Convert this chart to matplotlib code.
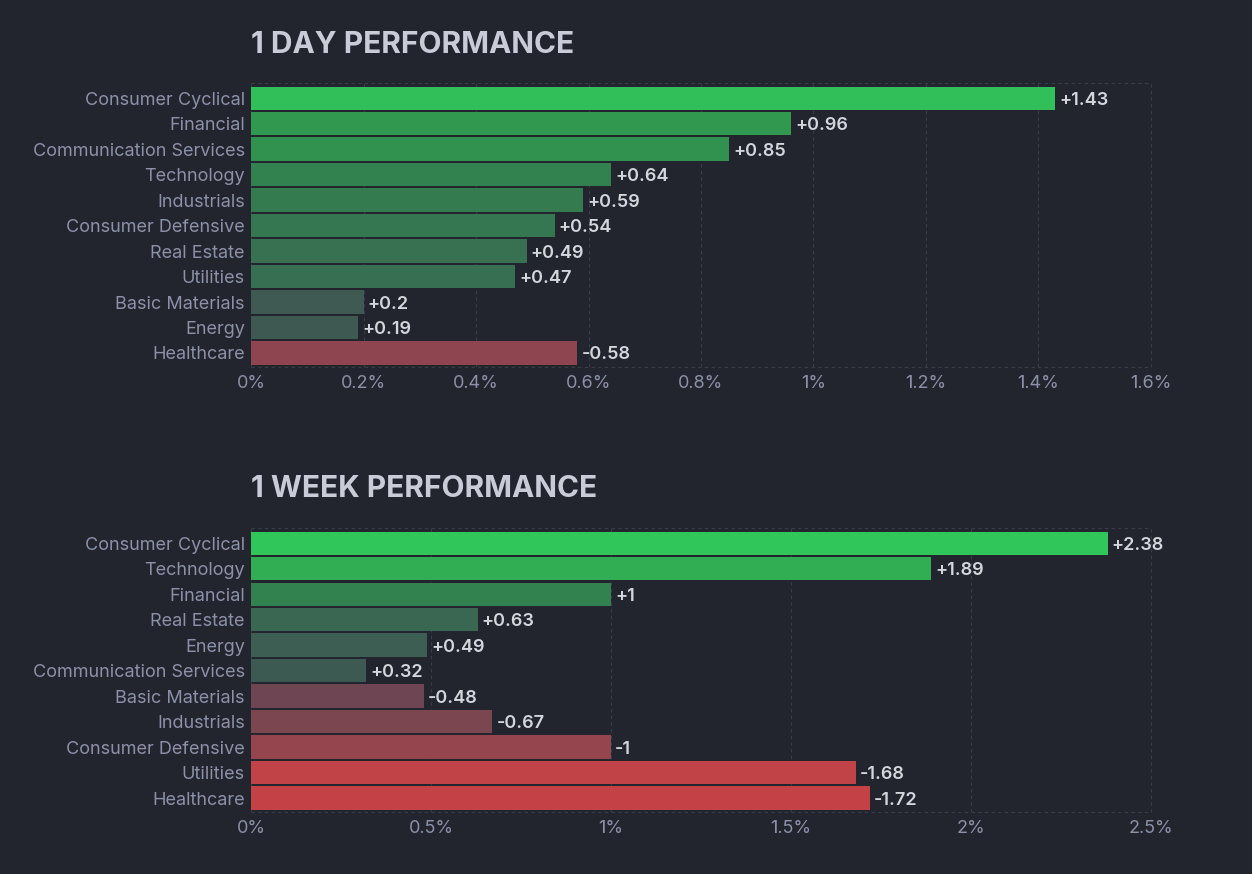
import matplotlib
matplotlib.use("Agg")
import matplotlib.pyplot as plt
import numpy as np
from matplotlib.colors import to_rgb

# ── Data ──────────────────────────────────────────────────────────────────────

DAY_SECTORS = ["Consumer Cyclical", "Financial", "Communication Services", "Technology",
               "Industrials", "Consumer Defensive", "Real Estate", "Utilities",
               "Basic Materials", "Energy", "Healthcare"]
DAY_VALUES = [1.43, 0.96, 0.85, 0.64, 0.59, 0.54, 0.49, 0.47, 0.2, 0.19, -0.58]
DAY_TICKS = [0, 0.2, 0.4, 0.6, 0.8, 1.0, 1.2, 1.4, 1.6]

WEEK_SECTORS = ["Consumer Cyclical", "Technology", "Financial", "Real Estate", "Energy",
                "Communication Services", "Basic Materials", "Industrials",
                "Consumer Defensive", "Utilities", "Healthcare"]
WEEK_VALUES = [2.38, 1.89, 1.0, 0.63, 0.49, 0.32, -0.48, -0.67, -1.0, -1.68, -1.72]
WEEK_TICKS = [0, 0.5, 1.0, 1.5, 2.0, 2.5]

# ── Style ─────────────────────────────────────────────────────────────────────

BG = "#22252e"
TITLE_C = "#c9cbd6"
LABEL_C = "#8d91a8"
VALUE_C = "#d4d6de"
GRID_C = "#393d4a"
DASH = (0, (3, 3))

plt.rcParams["font.family"] = ["Inter", "DejaVu Sans"]

# colour scale by |value| relative to the axis maximum
POS_U = [0.0, 0.1, 0.2, 0.4, 0.6, 0.95]
POS_C = ["#404f53", "#3e5852", "#3c5e53", "#328250", "#31994f", "#30c65a"]
NEG_U = [0.0, 0.19, 0.27, 0.4, 0.67, 0.72]
NEG_C = ["#4a4552", "#6e4552", "#7c4651", "#95454e", "#c14347", "#c83f45"]


def bar_color(v, vmax):
    u = abs(v) / vmax
    us, cs = (POS_U, POS_C) if v >= 0 else (NEG_U, NEG_C)
    rgb = np.array([to_rgb(c) for c in cs])
    return tuple(np.interp(u, us, rgb[:, k]) for k in range(3))


def fmt_tick(t):
    return f"{t:g}%"


def draw(ax, title, title_y, sectors, values, ticks):
    vmax = ticks[-1]
    y = np.arange(len(sectors))
    colors = [bar_color(v, vmax) for v in values]
    ax.set_facecolor(BG)
    ax.barh(y, np.abs(values), height=0.92, color=colors, zorder=3)
    for yi, v in zip(y, values):
        ax.text(abs(v) + vmax * 0.0045, yi, f"{v:+g}", va="center_baseline", ha="left",
                color=VALUE_C, fontsize=13, fontweight="semibold", zorder=4)
    ax.set_xlim(0, vmax)
    ax.set_ylim(len(sectors) - 0.45, -0.6)
    ax.set_yticks(y)
    ax.set_yticklabels(sectors)
    ax.set_xticks(ticks)
    ax.set_xticklabels([fmt_tick(t) for t in ticks])
    ax.tick_params(axis="both", length=0, colors=LABEL_C, labelsize=13)
    ax.tick_params(axis="y", pad=4.5)
    ax.tick_params(axis="x", pad=5.5)
    for s in ax.spines.values():
        s.set_visible(False)
    ax.grid(axis="x", color=GRID_C, linestyle=DASH, linewidth=0.8, zorder=0)
    ax.axvline(vmax, color=GRID_C, linestyle=DASH, linewidth=0.8, zorder=0, clip_on=False)
    for yl in ax.get_ylim():
        ax.axhline(yl, color=GRID_C, linestyle=DASH, linewidth=0.8, zorder=0, clip_on=False)
    fig.text(ax.get_position().x0, title_y, title, color=TITLE_C, fontsize=21.5,
             fontweight="bold", ha="left", va="baseline")


fig = plt.figure(figsize=(12.52, 8.74), dpi=100, facecolor=BG)
ax1 = fig.add_axes([0.2005, 0.5801, 0.7188, 0.325])
ax2 = fig.add_axes([0.2005, 0.0709, 0.7188, 0.325])

draw(ax1, "1 DAY PERFORMANCE", 0.9394, DAY_SECTORS, DAY_VALUES, DAY_TICKS)
draw(ax2, "1 WEEK PERFORMANCE", 0.4314, WEEK_SECTORS, WEEK_VALUES, WEEK_TICKS)

fig.savefig("out.png", dpi=100, facecolor=BG)
